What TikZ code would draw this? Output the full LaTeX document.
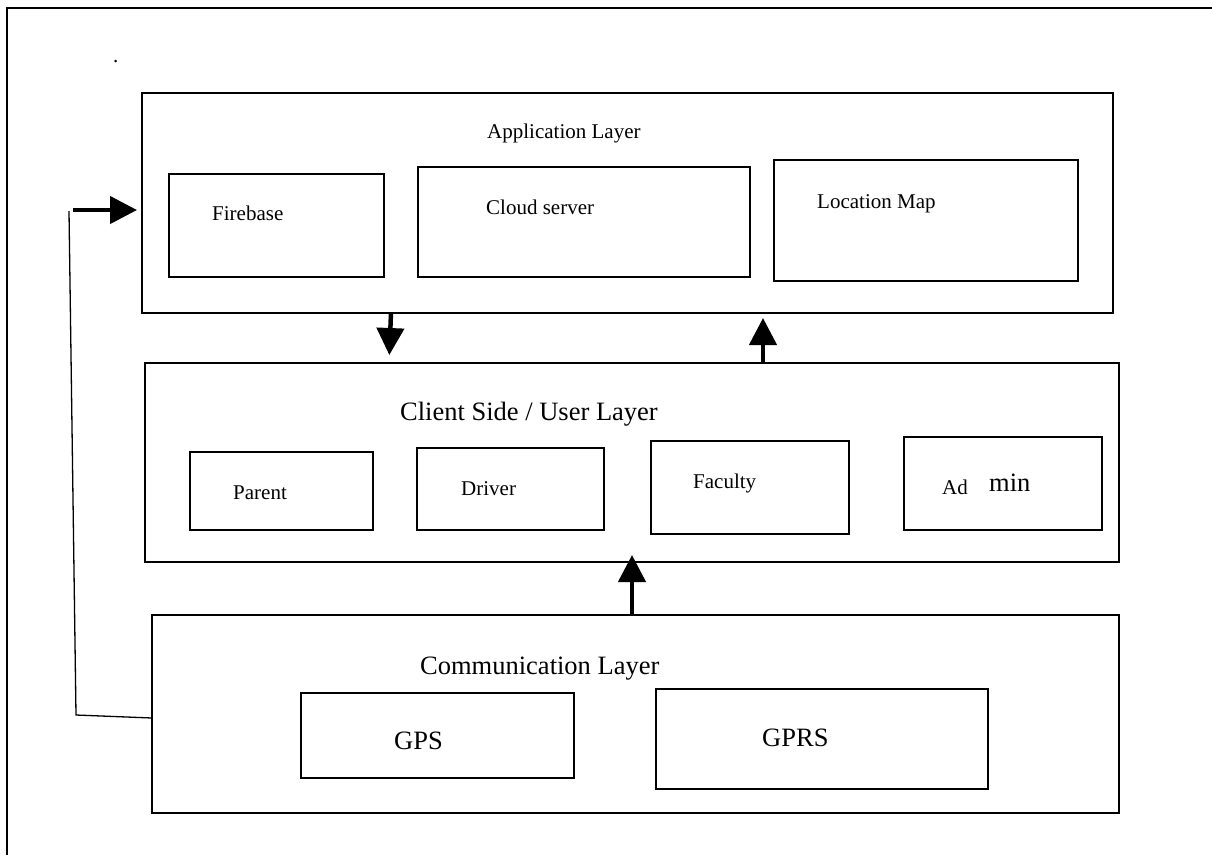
\documentclass[tikz,border=0pt]{standalone}
\usepackage{fontspec}
\setmainfont{Liberation Serif}
\usetikzlibrary{arrows.meta}
\begin{document}
\begin{tikzpicture}[x=1pt,y=-1pt,
    box/.style={draw,line width=1.6pt,rectangle,anchor=north west,inner sep=0pt,outer sep=0pt},
    small/.style={anchor=base west,inner sep=0pt,font=\fontsize{21pt}{24pt}\selectfont},
    big/.style={anchor=base west,inner sep=0pt,font=\fontsize{26.5pt}{30pt}\selectfont},
    fat/.style={line width=4.5pt,-{Triangle[length=27pt,width=27pt]}}]
    \useasboundingbox (0,0) rectangle (1212,855);
    \draw[line width=1.6pt] (1212,8) -- (7,8) -- (7,855);
    \node[small] (dot) at (113,62) {.};
    % application layer
    \node[box,minimum width=971pt,minimum height=220pt] (app) at (142,93) {};
    \node[small] (apptxt) at (487,138) {Application Layer};
    \node[box,minimum width=215pt,minimum height=103pt] (fb) at (169,174) {};
    \node[small] (fbtxt) at (212,220) {Firebase};
    \node[box,minimum width=332pt,minimum height=110pt] (cloud) at (418,167) {};
    \node[small] (cloudtxt) at (486,214) {Cloud server};
    \node[box,minimum width=304pt,minimum height=121pt] (locmap) at (774,160) {};
    \node[small] (locmaptxt) at (817,208) {Location Map};
    % client side / user layer
    \node[box,minimum width=974pt,minimum height=199pt] (client) at (145,363) {};
    \node[big] (clienttxt) at (400,420) {Client Side / User Layer};
    \node[box,minimum width=183pt,minimum height=78pt] (parent) at (190,452) {};
    \node[small] (parenttxt) at (233,499) {Parent};
    \node[box,minimum width=187pt,minimum height=82pt] (driver) at (417,448) {};
    \node[small] (drivertxt) at (461,495) {Driver};
    \node[box,minimum width=198pt,minimum height=93pt] (faculty) at (651,441) {};
    \node[small] (facultytxt) at (693,488) {Faculty};
    \node[box,minimum width=198pt,minimum height=93pt] (admin) at (904,437) {};
    \node[small] (admintxt) at (942,494) {Ad};
    \node[big] (admintxtb) at (989,491) {min};
    % communication layer
    \node[box,minimum width=967pt,minimum height=198pt] (comm) at (152,615) {};
    \node[big] (commtxt) at (420,674) {Communication Layer};
    \node[box,minimum width=273pt,minimum height=85pt] (gps) at (301,693) {};
    \node[big] (gpstxt) at (394,749) {GPS};
    \node[box,minimum width=332pt,minimum height=100pt] (gprs) at (656,689) {};
    \node[big] (gprstxt) at (762,746) {GPRS};
    % arrows
    \draw[fat,shorten >=8pt] ([xshift=249pt]app.south west) -- ([xshift=244pt]client.north west);
    \draw[fat,shorten >=5pt] ([xshift=618pt]client.north west) -- ([xshift=621pt]app.south west);
    \draw[fat,shorten >=-7pt] ([xshift=480pt]comm.north west) -- ([xshift=487pt]client.south west);
    \coordinate (c1) at (76,715);
    \coordinate (c2) at (69,211);
    \coordinate (c3) at (73,210);
    \draw[line width=1.3pt] ([yshift=-4pt]comm.west) -- (c1) -- (c2);
    \draw[fat,shorten >=5pt] (c3) -- ([yshift=-7pt]app.west);
\end{tikzpicture}
\end{document}
